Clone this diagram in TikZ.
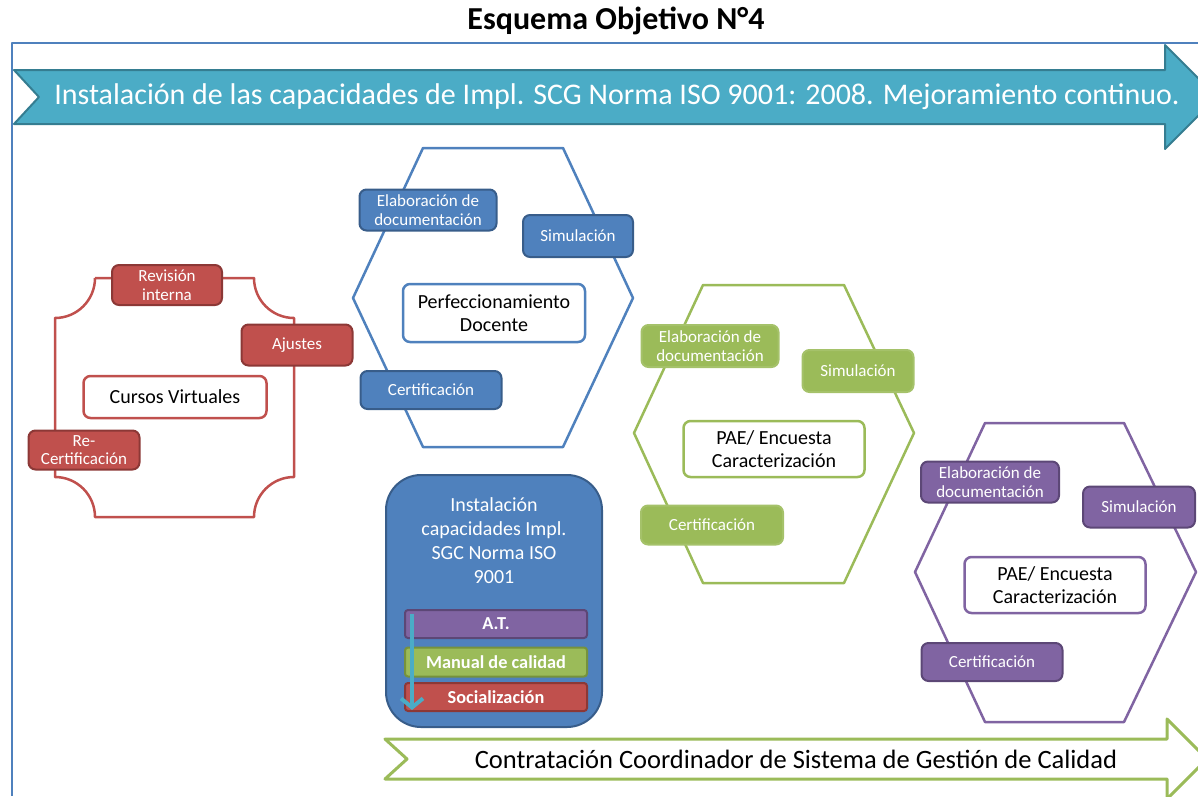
\documentclass[tikz,border=0pt]{standalone}
\usepackage{fontspec}
\setmainfont{Carlito}
\usetikzlibrary{arrows.meta}
\definecolor{azul}{HTML}{4F81BD}
\definecolor{azulosc}{HTML}{385D8A}
\definecolor{rojo}{HTML}{C0504D}
\definecolor{rojoosc}{HTML}{8C3836}
\definecolor{verde}{HTML}{9BBB59}
\definecolor{verdeosc}{HTML}{76923C}
\definecolor{morado}{HTML}{8064A2}
\definecolor{moradoosc}{HTML}{5C4776}
\definecolor{turquesa}{HTML}{4BACC6}
\definecolor{turquesaosc}{HTML}{357D91}

\begin{document}
\begin{tikzpicture}[x=1pt,y=-1pt,line join=round,
  caja/.style={rectangle,rounded corners=7pt,line width=2pt,text=white,align=center,inner sep=1pt,font=\fontsize{17}{18.5}\selectfont},
  cajaroja/.style={caja,fill=rojo,draw=rojoosc},
  cajaazul/.style={caja,fill=azul,draw=azulosc},
  cajaverde/.style={caja,fill=verde,draw=verde!90!white},
  cajamorada/.style={caja,fill=morado,draw=moradoosc},
  centro/.style={rectangle,rounded corners=7pt,line width=2.5pt,fill=white,align=center,inner sep=1pt,font=\fontsize{20}{23}\selectfont},
  hexa/.style={line width=2.5pt},
  barra/.style={rectangle,rounded corners=3pt,line width=2pt,text=white,inner sep=0pt,minimum width=182pt,font=\bfseries\fontsize{18.3}{20}\selectfont}]
  \useasboundingbox (0,0) rectangle (1198,796);

  \node[font=\bfseries\fontsize{32}{34}\selectfont] (titulo) at (616,21) {Esquema Objetivo N°4};
  \draw[azul,line width=1.5pt] (1198,43)--(12,43)--(12,796);

  \draw[fill=turquesa,draw=turquesaosc,line width=2pt] (14,70)--(1165,70)--(1165,45)--(1217,97)--(1165,149)--(1165,124)--(14,124)--(39,97)--cycle;
  \node[text=white,font=\fontsize{30}{32}\selectfont] (banner) at (617,97) {Instalación de las capacidades de Impl. SCG Norma ISO 9001: 2008. Mejoramiento continuo.};

  \draw[fill=white,draw=verde,line width=3pt] (385,739)--(1167,739)--(1167,719)--(1207,759)--(1167,799)--(1167,779)--(385,779)--(407,759)--cycle;
  \node[font=\fontsize{26.5}{28}\selectfont] (contrato) at (796,759) {Contratación Coordinador de Sistema de Gestión de Calidad};

  \draw[hexa,rojo] (95,278)--(254,278) arc[start angle=180,end angle=90,radius=40]
    --(294,477) arc[start angle=270,end angle=180,radius=40]
    --(95,517) arc[start angle=0,end angle=-90,radius=40]
    --(55,318) arc[start angle=90,end angle=0,radius=40];
  \draw[hexa,azul] (423,148)--(563,148)--(633,298)--(563,447)--(423,447)--(353,298)--cycle;
  \draw[hexa,verde] (703,285)--(844,285)--(914,433)--(844,583)--(703,583)--(634,433)--cycle;
  \draw[hexa,morado] (985,423)--(1124,423)--(1196,572)--(1124,722)--(985,722)--(915,572)--cycle;

  \node[cajaroja,minimum width=110pt,minimum height=40pt] (revision) at (167,285) {Revisión\\interna};
  \node[cajaroja,minimum width=111pt,minimum height=41pt] (ajustes) at (297,345) {Ajustes};
  \node[cajaroja,minimum width=111pt,minimum height=39pt] (recert) at (84,450) {Re-\\Certificación};
  \node[centro,draw=rojo,minimum width=183pt,minimum height=42pt] (cursos) at (175,397) {Cursos Virtuales};

  \node[cajaazul,minimum width=137pt,minimum height=41pt] (elabazul) at (428,210) {Elaboración de\\documentación};
  \node[cajaazul,minimum width=110pt,minimum height=42pt] (simazul) at (578,236) {Simulación};
  \node[cajaazul,minimum width=141pt,minimum height=38pt] (certazul) at (431,390) {Certificación};
  \node[centro,draw=azul,minimum width=182pt,minimum height=58pt] (perfec) at (494,313) {Perfeccionamiento\\Docente};

  \node[cajaverde,minimum width=137pt,minimum height=42pt] (elabverde) at (710,346) {Elaboración de\\documentación};
  \node[cajaverde,minimum width=111pt,minimum height=42pt] (simverde) at (858,371) {Simulación};
  \node[cajaverde,minimum width=142pt,minimum height=39pt] (certverde) at (712,525) {Certificación};
  \node[centro,draw=verde,minimum width=181pt,minimum height=56pt] (paeverde) at (774,449) {PAE/ Encuesta\\Caracterización};

  \node[cajamorada,minimum width=138pt,minimum height=41pt] (elabmorado) at (990,482) {Elaboración de\\documentación};
  \node[cajamorada,minimum width=112pt,minimum height=41pt] (simmorado) at (1139,507) {Simulación};
  \node[cajamorada,minimum width=141pt,minimum height=38pt] (certmorado) at (992,662) {Certificación};
  \node[centro,draw=morado,minimum width=181pt,minimum height=56pt] (paemorado) at (1055,585) {PAE/ Encuesta\\Caracterización};

  \node[rectangle,rounded corners=35pt,fill=azul,draw=azulosc,line width=2pt,minimum width=216pt,minimum height=252pt] (instal) at (494,601) {};
  \node[text=white,align=center,font=\fontsize{20}{24}\selectfont] (instaltexto) at (494,541) {Instalación\\capacidades Impl.\\SGC Norma ISO\\9001};
  \node[barra,fill=morado,draw=moradoosc,minimum height=28pt] (at) at (496,624) {A.T.};
  \node[barra,fill=verde,draw=verdeosc,minimum height=29pt] (manual) at (496,662) {Manual de calidad};
  \node[barra,fill=rojo,draw=rojoosc,minimum height=28pt] (social) at (496,697) {Socialización};
  \coordinate (flechaini) at (412,614);
  \coordinate (flechafin) at (412,710);
  \draw[turquesa,line width=4pt,-{Straight Barb[length=9pt,width=22pt]}] (flechaini)--(flechafin);
\end{tikzpicture}
\end{document}
